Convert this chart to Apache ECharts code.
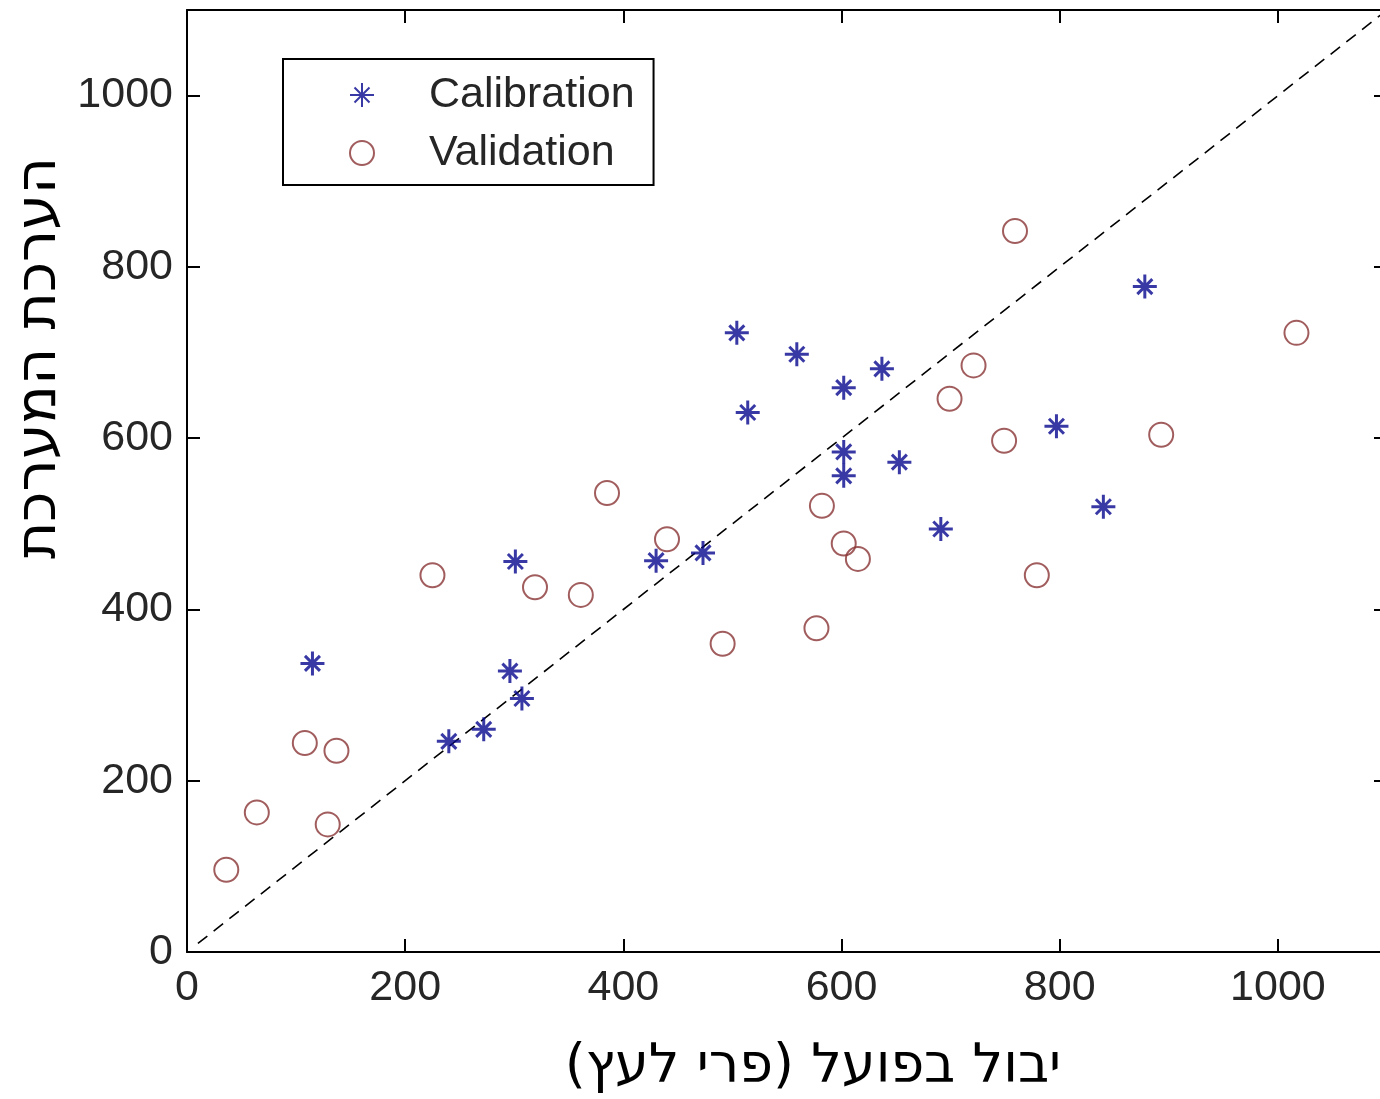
<!DOCTYPE html>
<html>
<head>
<meta charset="utf-8">
<script src="https://cdn.jsdelivr.net/npm/echarts@6/dist/echarts.min.js"></script>
<style>
  html, body { margin: 0; padding: 0; background: #fff; }
  #chart { width: 1380px; height: 1099px; }
</style>
</head>
<body>
<div id="chart"></div>
<script>
const calibration = [
  [115, 337], [296, 328], [307, 296], [301, 456], [240, 246], [272, 260],
  [430, 457], [473, 466], [504, 723], [514, 630], [559, 698], [602, 659],
  [602, 584], [602, 556], [637, 681], [653, 572], [691, 494], [797, 614],
  [840, 520], [878, 777]
]
const validation = [
  [36, 96], [64, 163], [108, 244], [137, 235], [129, 149], [225, 440],
  [319, 426], [361, 417], [385, 536], [440, 482], [491, 360], [577, 378],
  [582, 521], [602, 477], [615, 459], [699, 646], [721, 685], [749, 597],
  [759, 842], [779, 440], [893, 604], [1017, 723]
]
// 1:1 reference line
const identityLine = [[10, 10], [1100, 1100]]
const legendNames = ["Calibration", "Validation"]
const xTitle = "\u200Fיבול בפועל (פרי לעץ)\u200F"
const yTitle = "הערכת המערכת"

const starPath = "path://M12,0L12,24M0,12L24,12M4.5,4.5L19.5,19.5M4.5,19.5L19.5,4.5"
const labelFont = "Liberation Sans"

function frameAxis(position, showLabel) {
  return {
    type: "value",
    position: position,
    min: 0,
    max: 1100,
    interval: 200,
    splitLine: { show: false },
    axisLine: { show: true, onZero: false, lineStyle: { color: "#000", width: 2 } },
    axisTick: { show: true, inside: true, length: 13, lineStyle: { color: "#000", width: 2 } },
    axisLabel: {
      show: showLabel,
      showMaxLabel: false,
      margin: position === "left" ? 14 : 15,
      color: "#262626",
      fontFamily: labelFont,
      fontSize: 43,
      formatter: (value) => String(value),
    },
  }
}

let myChart = echarts.init(document.getElementById("chart"), null, { renderer: "canvas" })

myChart.setOption({
  animation: false,
  backgroundColor: "#fff",
  grid: { left: 187, top: 10, right: -7, bottom: 147, containLabel: false, outerBoundsMode: "none" },
  xAxis: [frameAxis("bottom", true), frameAxis("top", false)],
  yAxis: [frameAxis("left", true), frameAxis("right", false)],
  legend: {
    data: legendNames,
    orient: "vertical",
    left: 283,
    top: 59,
    backgroundColor: "#fff",
    borderColor: "#000",
    borderWidth: 2,
    borderRadius: 0,
    padding: [14, 19, 10, 66],
    itemWidth: 24,
    itemHeight: 24,
    itemGap: 14,
    textStyle: { color: "#262626", fontFamily: labelFont, fontSize: 43, lineHeight: 44, padding: [0, 0, 0, 50] },
  },
  graphic: [
    {
      type: "text",
      x: 40,
      y: 358,
      rotation: Math.PI / 2,
      style: { text: yTitle, fill: "#000", font: '57px "DejaVu Sans"', align: "center", verticalAlign: "middle" },
    },
    {
      type: "text",
      x: 813,
      y: 1068,
      style: { text: xTitle, fill: "#000", font: '54px "DejaVu Sans"', align: "center", verticalAlign: "middle" },
    },
  ],
  series: [
    {
      name: "identity",
      type: "line",
      data: identityLine,
      symbol: "none",
      silent: true,
      clip: true,
      lineStyle: { color: "#000", width: 1.6, type: [12, 8] },
      z: 1,
    },
    {
      name: "Calibration",
      type: "scatter",
      data: calibration,
      symbol: starPath,
      symbolSize: 24,
      itemStyle: { color: "#08088f", borderColor: "#08088f", borderWidth: 3 },
      z: 3,
    },
    {
      name: "Validation",
      type: "scatter",
      data: validation,
      symbol: "circle",
      symbolSize: 24,
      itemStyle: { color: "rgba(255,255,255,0)", borderColor: "#8a3434", borderWidth: 2 },
      z: 2,
    },
  ],
})

window.addEventListener("resize", () => {
  myChart.resize()
})
</script>
</body>
</html>
